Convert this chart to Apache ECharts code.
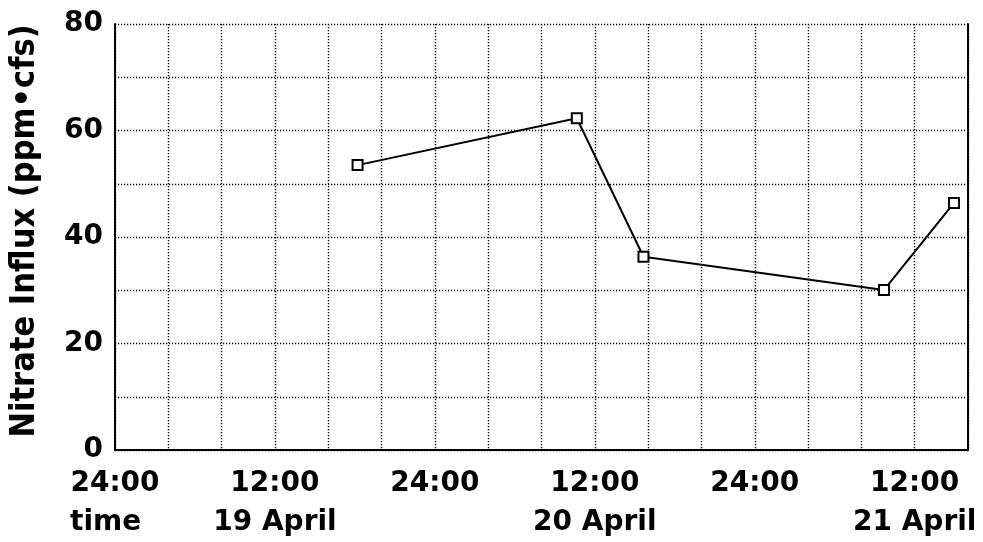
<!DOCTYPE html>
<html>
<head>
<meta charset="utf-8">
<style>
html,body{margin:0;padding:0;background:#fff;}
#chart{width:983px;height:542px;}
</style>
<script src="https://cdn.jsdelivr.net/npm/echarts@6/dist/echarts.min.js"></script>
</head>
<body>
<div id="chart"></div>
<script>
// hours since 24:00 on 18 April
var hours = [18.2, 34.65, 39.65, 57.7, 62.95];
var influx = [53.5, 62.3, 36.3, 30.05, 46.4];
var tickHours = [0, 12, 24, 36, 48, 60];
var tickTimes = ['24:00', '12:00', '24:00', '12:00', '24:00', '12:00'];
var tickDates = ['time', '19 April', '', '20 April', '', '21 April'];
var yLabels = [0, 20, 40, 60, 80];

var FONT = '"DejaVu Sans", sans-serif';
var chart = echarts.init(document.getElementById('chart'), null, {renderer: 'canvas'});
var pts = hours.map(function (h, i) { return [h, influx[i]]; });
var dotted = {show: true, lineStyle: {color: '#000', width: 1.4, type: [1.2, 1.8]}};

chart.setOption({
  animation: false,
  backgroundColor: '#fff',
  grid: {left: 115, right: 15, top: 24, bottom: 92, containLabel: false, outerBoundsMode: 'none'},
  xAxis: {
    type: 'value', min: 0, max: 64, interval: 4,
    axisLine: {show: true, onZero: false, lineStyle: {color: '#000', width: 2}},
    axisTick: {show: false},
    splitLine: dotted,
    axisLabel: {
      margin: 14,
      color: '#000', fontFamily: FONT, fontWeight: 'bold', fontSize: 28, lineHeight: 39,
      formatter: function (v) {
        var i = tickHours.indexOf(v);
        if (i < 0) return '';
        if (i === 0) return '{a|' + tickTimes[i] + '}\n{t|' + tickDates[i] + '}';
        return tickDates[i] ? tickTimes[i] + '\n' + tickDates[i] : tickTimes[i];
      },
      rich: {
        a: {fontFamily: FONT, fontWeight: 'bold', fontSize: 28, lineHeight: 39, color: '#000'},
        t: {fontFamily: FONT, fontWeight: 'bold', fontSize: 28, lineHeight: 39, color: '#000', width: 90, align: 'left'}
      }
    }
  },
  yAxis: [{
    type: 'value', min: 0, max: 80, interval: 10,
    name: 'Nitrate Influx (ppm\u2022cfs)',
    nameLocation: 'middle', nameGap: 73,
    nameTextStyle: {color: '#000', fontFamily: '"DejaVu Sans Condensed", "DejaVu Sans", sans-serif', fontWeight: 'bold', fontSize: 34, padding: [0, 0, 0, 12]},
    axisLine: {show: true, lineStyle: {color: '#000', width: 2}},
    axisTick: {show: false},
    splitLine: dotted,
    axisLabel: {
      margin: 12, color: '#000', fontFamily: FONT, fontWeight: 'bold', fontSize: 28,
      formatter: function (v) { return yLabels.indexOf(v) >= 0 ? String(v) : ''; }
    }
  }, {
    type: 'value', min: 0, max: 80, interval: 10, position: 'right',
    axisLine: {show: true, lineStyle: {color: '#000', width: 2}},
    axisTick: {show: false}, axisLabel: {show: false}, splitLine: {show: false}
  }],
  series: [{
    type: 'line', data: pts,
    symbol: 'rect', symbolSize: 10,
    itemStyle: {color: '#fff', borderColor: '#000', borderWidth: 2},
    lineStyle: {color: '#000', width: 2},
    emphasis: {disabled: true}
  }]
});
</script>
</body>
</html>
